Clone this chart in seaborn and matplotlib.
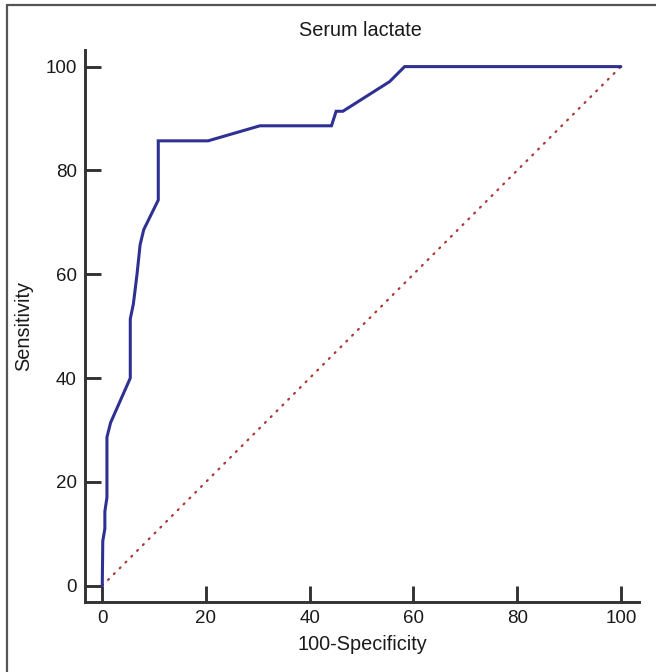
import numpy as np
import pandas as pd
import matplotlib
matplotlib.use('Agg')
import matplotlib.pyplot as plt
import seaborn as sns

# ROC curve for serum lactate
fpr = [0, 0.1, 0.5, 0.5, 0.9, 0.9, 1.6, 5.4, 5.4, 6.0, 6.7, 7.3, 8.0, 10.8, 10.8,
       20.4, 30.4, 44.2, 45.1, 46.4, 55.4, 58.3, 100]
sens = [0, 8.6, 11.0, 14.3, 17.0, 28.6, 31.4, 40.0, 51.4, 54.3, 60.0, 65.7, 68.6, 74.3, 85.7,
        85.7, 88.6, 88.6, 91.4, 91.4, 97.1, 100, 100]
diag = [0, 100]
ticks = [0, 20, 40, 60, 80, 100]

TITLE = 'Serum lactate'
X_LABEL = '100-Specificity'
Y_LABEL = 'Sensitivity'

sns.set_style('white')
plt.rcParams['font.family'] = ['Liberation Sans', 'DejaVu Sans']

df = pd.DataFrame({'fpr': fpr, 'sens': sens})

fig = plt.figure(figsize=(6.56, 6.72), dpi=100)
ax = fig.add_axes([85 / 656, 1 - 601.7 / 672, (639 - 85) / 656, (601.7 - 50) / 672])

sns.lineplot(x=diag, y=diag, ax=ax, color='#a83838', linestyle=(0, (0.5, 3.2)),
             linewidth=1.6, dash_capstyle='round')
sns.lineplot(data=df, x='fpr', y='sens', ax=ax, sort=False, estimator=None,
             color='#2e3192', linewidth=2.2, solid_joinstyle='miter')

ax.set_xlim(-3.33, 103.5)
ax.set_ylim(-3.08, 103.2)
ax.set_xticks(ticks)
ax.set_yticks(ticks)
ax.tick_params(bottom=True, left=True, direction='in', length=11.5, width=2.1,
               color='#333333', labelcolor='#1a1a1a', pad=6, labelsize=13.5)
for side in ['top', 'right']:
    ax.spines[side].set_visible(False)
for side in ['left', 'bottom']:
    ax.spines[side].set_linewidth(2.1)
    ax.spines[side].set_color('#333333')

ax.set_xlabel(X_LABEL, fontsize=14.3, color='#1a1a1a', labelpad=6)
ax.set_ylabel(Y_LABEL, fontsize=14.3, color='#1a1a1a', labelpad=9)
fig.text(0.549, 1 - 30 / 672, TITLE, ha='center', va='center', fontsize=14.3, color='#1a1a1a')

# outer frame (left and top edges)
fig.add_artist(plt.Line2D([6.5 / 656, 6.5 / 656], [0, 1 - 5 / 672], transform=fig.transFigure,
                          color='#555555', linewidth=1.6))
fig.add_artist(plt.Line2D([6.5 / 656, 1], [1 - 5 / 672, 1 - 5 / 672], transform=fig.transFigure,
                          color='#555555', linewidth=1.6))

fig.savefig('out.png', dpi=100)
